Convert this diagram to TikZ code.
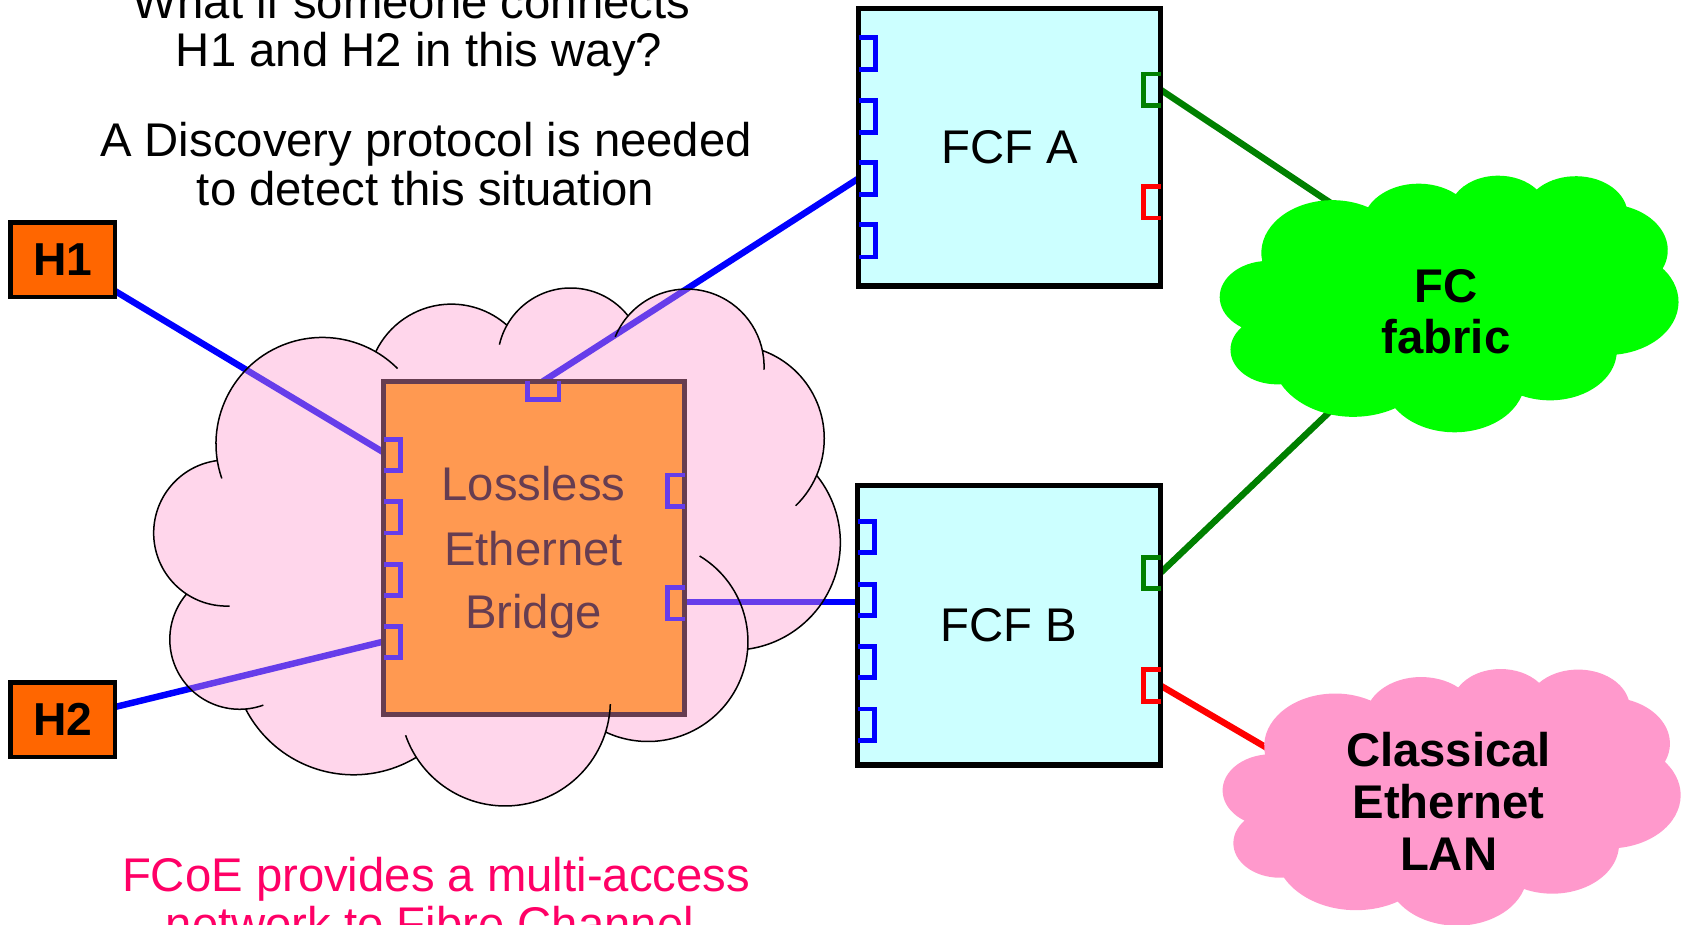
\documentclass[tikz,border=0pt]{standalone}
\usepackage{fontspec}
\setmainfont{Liberation Sans}
\usetikzlibrary{calc}
\pgfdeclarelayer{back}
\pgfsetlayers{back,main}

\definecolor{hostorange}{HTML}{FF6600}
\definecolor{bridgeorange}{HTML}{FF9900}
\definecolor{fcfcyan}{HTML}{CCFFFF}
\definecolor{lanpink}{HTML}{FF99CC}
\definecolor{fcgreen}{HTML}{00FF00}
\definecolor{linkgreen}{HTML}{008000}
\definecolor{notered}{HTML}{FF0066}

% Cloud: closed outline made of eleven lobes (for filling)
\newcommand\fcoecloudbody{%
 ($(300,413)+(170.9:99)$) arc[start angle=170.9,end angle=300.1,radius=99]
 -- ($(420,361)+(205.5:78)$) arc[start angle=205.5,end angle=311.5,radius=78]
 -- ($(531,336)+(209.4:68)$) arc[start angle=209.4,end angle=321.8,radius=68]
 -- ($(639,341)+(220.7:72)$) arc[start angle=220.7,end angle=348,radius=72]
 -- ($(680,408)+(-70.1:87)$) arc[start angle=-70.1,end angle=23.3,radius=87]
 -- ($(682,505)+(-38.8:100)$) arc[start angle=-38.8,end angle=82.1,radius=100]
 -- ($(603,597)+(4.3:93)$) arc[start angle=4.3,end angle=115.1,radius=93]
 -- ($(470,652)+(17.3:98)$) arc[start angle=17.3,end angle=147.4,radius=98]
 -- ($(329,608)+(58.9:113)$) arc[start angle=58.9,end angle=152.8,radius=113]
 -- ($(223,595)+(85.1:65)$) arc[start angle=85.1,end angle=220.4,radius=65]
 -- ($(211,496)+(123.4:68)$) arc[start angle=123.4,end angle=262.6,radius=68]
 -- cycle}

% Cloud: lobe arcs with their small inner tails (for stroking)
\newcommand\fcoecloudrim{%
 (300,413) ++(161:99) arc[start angle=161,end angle=315,radius=99]
 (420,361) ++(205.5:78) arc[start angle=205.5,end angle=311.5,radius=78]
 (531,336) ++(193:68) arc[start angle=193,end angle=321.8,radius=68]
 (639,341) ++(202.5:72) arc[start angle=202.5,end angle=362.4,radius=72]
 (680,408) ++(-70.1:87) arc[start angle=-70.1,end angle=46,radius=87]
 (682,505) ++(-38.8:100) arc[start angle=-38.8,end angle=82.1,radius=100]
 (603,597) ++(-58.9:93) arc[start angle=-58.9,end angle=115.1,radius=93]
 (470,652) ++(1.9:98) arc[start angle=1.9,end angle=160.8,radius=98]
 (329,608) ++(58.9:113) arc[start angle=58.9,end angle=152.8,radius=113]
 (223,595) ++(70.2:65) arc[start angle=70.2,end angle=220.4,radius=65]
 (211,496) ++(87.7:68) arc[start angle=87.7,end angle=262.6,radius=68]}

\begin{document}
\begin{tikzpicture}[x=1pt,y=-1pt,
  every node/.style={outer sep=0pt},
  txt/.style={font=\fontsize{44}{48}\selectfont, inner sep=0pt, anchor=base},
  boldtxt/.style={txt, font=\bfseries\fontsize{44}{48}\selectfont},
  host/.style={draw=black, line width=4.3pt, fill=hostorange, inner sep=0pt,
    minimum width=97pt, minimum height=69.5pt,
    font=\bfseries\fontsize{43}{48}\selectfont},
  fcf/.style={draw=black, line width=5pt, fill=fcfcyan, inner sep=0pt,
    font=\fontsize{44}{48}\selectfont},
  bridgebox/.style={draw=black, line width=4.4pt, fill=bridgeorange, inner sep=0pt,
    minimum width=280pt, minimum height=310pt},
  port/.style={line width=4.5pt, line join=miter},
  link/.style={line width=6pt},
  rim/.style={draw=black, line width=1.4pt}]

\useasboundingbox (0,0) rectangle (1568,860);

% hosts, bridge and FCF switches
\node[host] (h1) at (58.5,241.7) {H1};
\node[host] (h2) at (58.5,669.7) {H2};
\node[bridgebox] (br) at (497,510) {};
\node[fcf, minimum width=281pt, minimum height=258pt] (fcfA) at (939.5,137) {FCF A};
\node[fcf, minimum width=282pt, minimum height=260pt] (fcfB) at (939,582) {FCF B};

% port attachment points
\coordinate (brL1) at ($(br.north west)+(0,66)$);
\coordinate (brL4) at ($(br.north west)+(0,242)$);
\coordinate (brT) at ($(br.north west)+(148,0)$);
\coordinate (brR2) at ($(br.north east)+(0,205)$);
\coordinate (fcfA3) at ($(fcfA.north west)+(0,158)$);
\coordinate (fcfB2) at ($(fcfB.north west)+(0,108)$);
\coordinate (fcfAg) at ($(fcfA.north east)+(0,75.5)$);
\coordinate (fcfBg) at ($(fcfB.north east)+(0,81)$);
\coordinate (fcfBr) at ($(fcfB.north east)+(0,186)$);
\coordinate (fcinA) at (1300,230);
\coordinate (fcinB) at (1290,333);
\coordinate (lanin) at (1220,720);

% links
\begin{pgfonlayer}{back}
\draw[link, blue] (h1) -- (brL1);
\draw[link, blue] (h2) -- (brL4);
\draw[link, blue] (brT) -- (fcfA3);
\draw[link, blue] (brR2) -- (fcfB2);
\draw[link, linkgreen] (fcfAg) -- (fcinA);
\draw[link, linkgreen] (fcfBg) -- (fcinB);
\draw[link, red] (fcfBr) -- (lanin);
\end{pgfonlayer}

% bridge ports and label
\foreach \o in {54,112,170,228}
  \draw[port, blue] ($(br.north west)+(0,\o)$) -- ++(16,0) -- ++(0,29) -- ++(-16,0);
\foreach \o in {87,192}
  \draw[port, blue] ($(br.north east)+(0,\o)$) -- ++(-16,0) -- ++(0,29) -- ++(16,0);
\draw[port, blue] ($(br.north west)+(133.6,0)$) -- ++(0,17) -- ++(29.6,0) -- ++(0,-17);
\node[txt] (brl1) at (496.5,466) {Lossless};
\node[txt] (brl2) at (496.5,526.2) {Ethernet};
\node[txt] (brl3) at (496.5,584.7) {Bridge};

% translucent lossless Ethernet cloud over the bridge
\fill[lanpink, opacity=0.4] \fcoecloudbody;
\path[rim] \fcoecloudrim;

% FCF ports
\foreach \o in {26.8,85.2,143.2,201.2}
  \draw[port, blue] ($(fcfA.north west)+(0,\o)$) -- ++(16,0) -- ++(0,30) -- ++(-16,0);
\draw[port, linkgreen] ($(fcfA.north east)+(0,60.9)$) -- ++(-16,0) -- ++(0,29) -- ++(16,0);
\draw[port, red] ($(fcfA.north east)+(0,165.2)$) -- ++(-16,0) -- ++(0,29.6) -- ++(16,0);
\foreach \o in {33.2,91.8,149.8,207.8}
  \draw[port, blue] ($(fcfB.north west)+(0,\o)$) -- ++(16,0) -- ++(0,29) -- ++(-16,0);
\draw[port, linkgreen] ($(fcfB.north east)+(0,66.7)$) -- ++(-16,0) -- ++(0,29) -- ++(16,0);
\draw[port, red] ($(fcfB.north east)+(0,171.2)$) -- ++(-16,0) -- ++(0,29.3) -- ++(16,0);

% FC fabric and classical Ethernet LAN clouds
\begin{scope}[shift={(1039.45,30.7)}, xscale=0.6682, yscale=0.4954]
  \fill[fcgreen] \fcoecloudbody;
\end{scope}
\begin{scope}[shift={(1042.3,489.8)}, xscale=0.6671, yscale=0.4954]
  \fill[lanpink] \fcoecloudbody;
\end{scope}
\node[boldtxt] (fc1) at (1345.6,281.7) {FC};
\node[boldtxt] (fc2) at (1345.6,328.8) {fabric};
\node[boldtxt] (lan1) at (1348,713.4) {Classical};
\node[boldtxt] (lan2) at (1348,761.5) {Ethernet};
\node[boldtxt] (lan3) at (1348,809.6) {LAN};

% notes
\node[txt] (q1) at (383,17) {What if someone connects};
\node[txt] (q2) at (390,62) {H1 and H2 in this way?};
\node[txt] (q3) at (396.5,145.8) {A Discovery protocol is needed};
\node[txt] (q4) at (396,190.8) {to detect this situation};
\node[txt, text=notered] (n1) at (405.8,829.8) {FCoE provides a multi-access};
\node[txt, text=notered] (n2) at (400,875) {network to Fibre Channel};
\end{tikzpicture}
\end{document}
